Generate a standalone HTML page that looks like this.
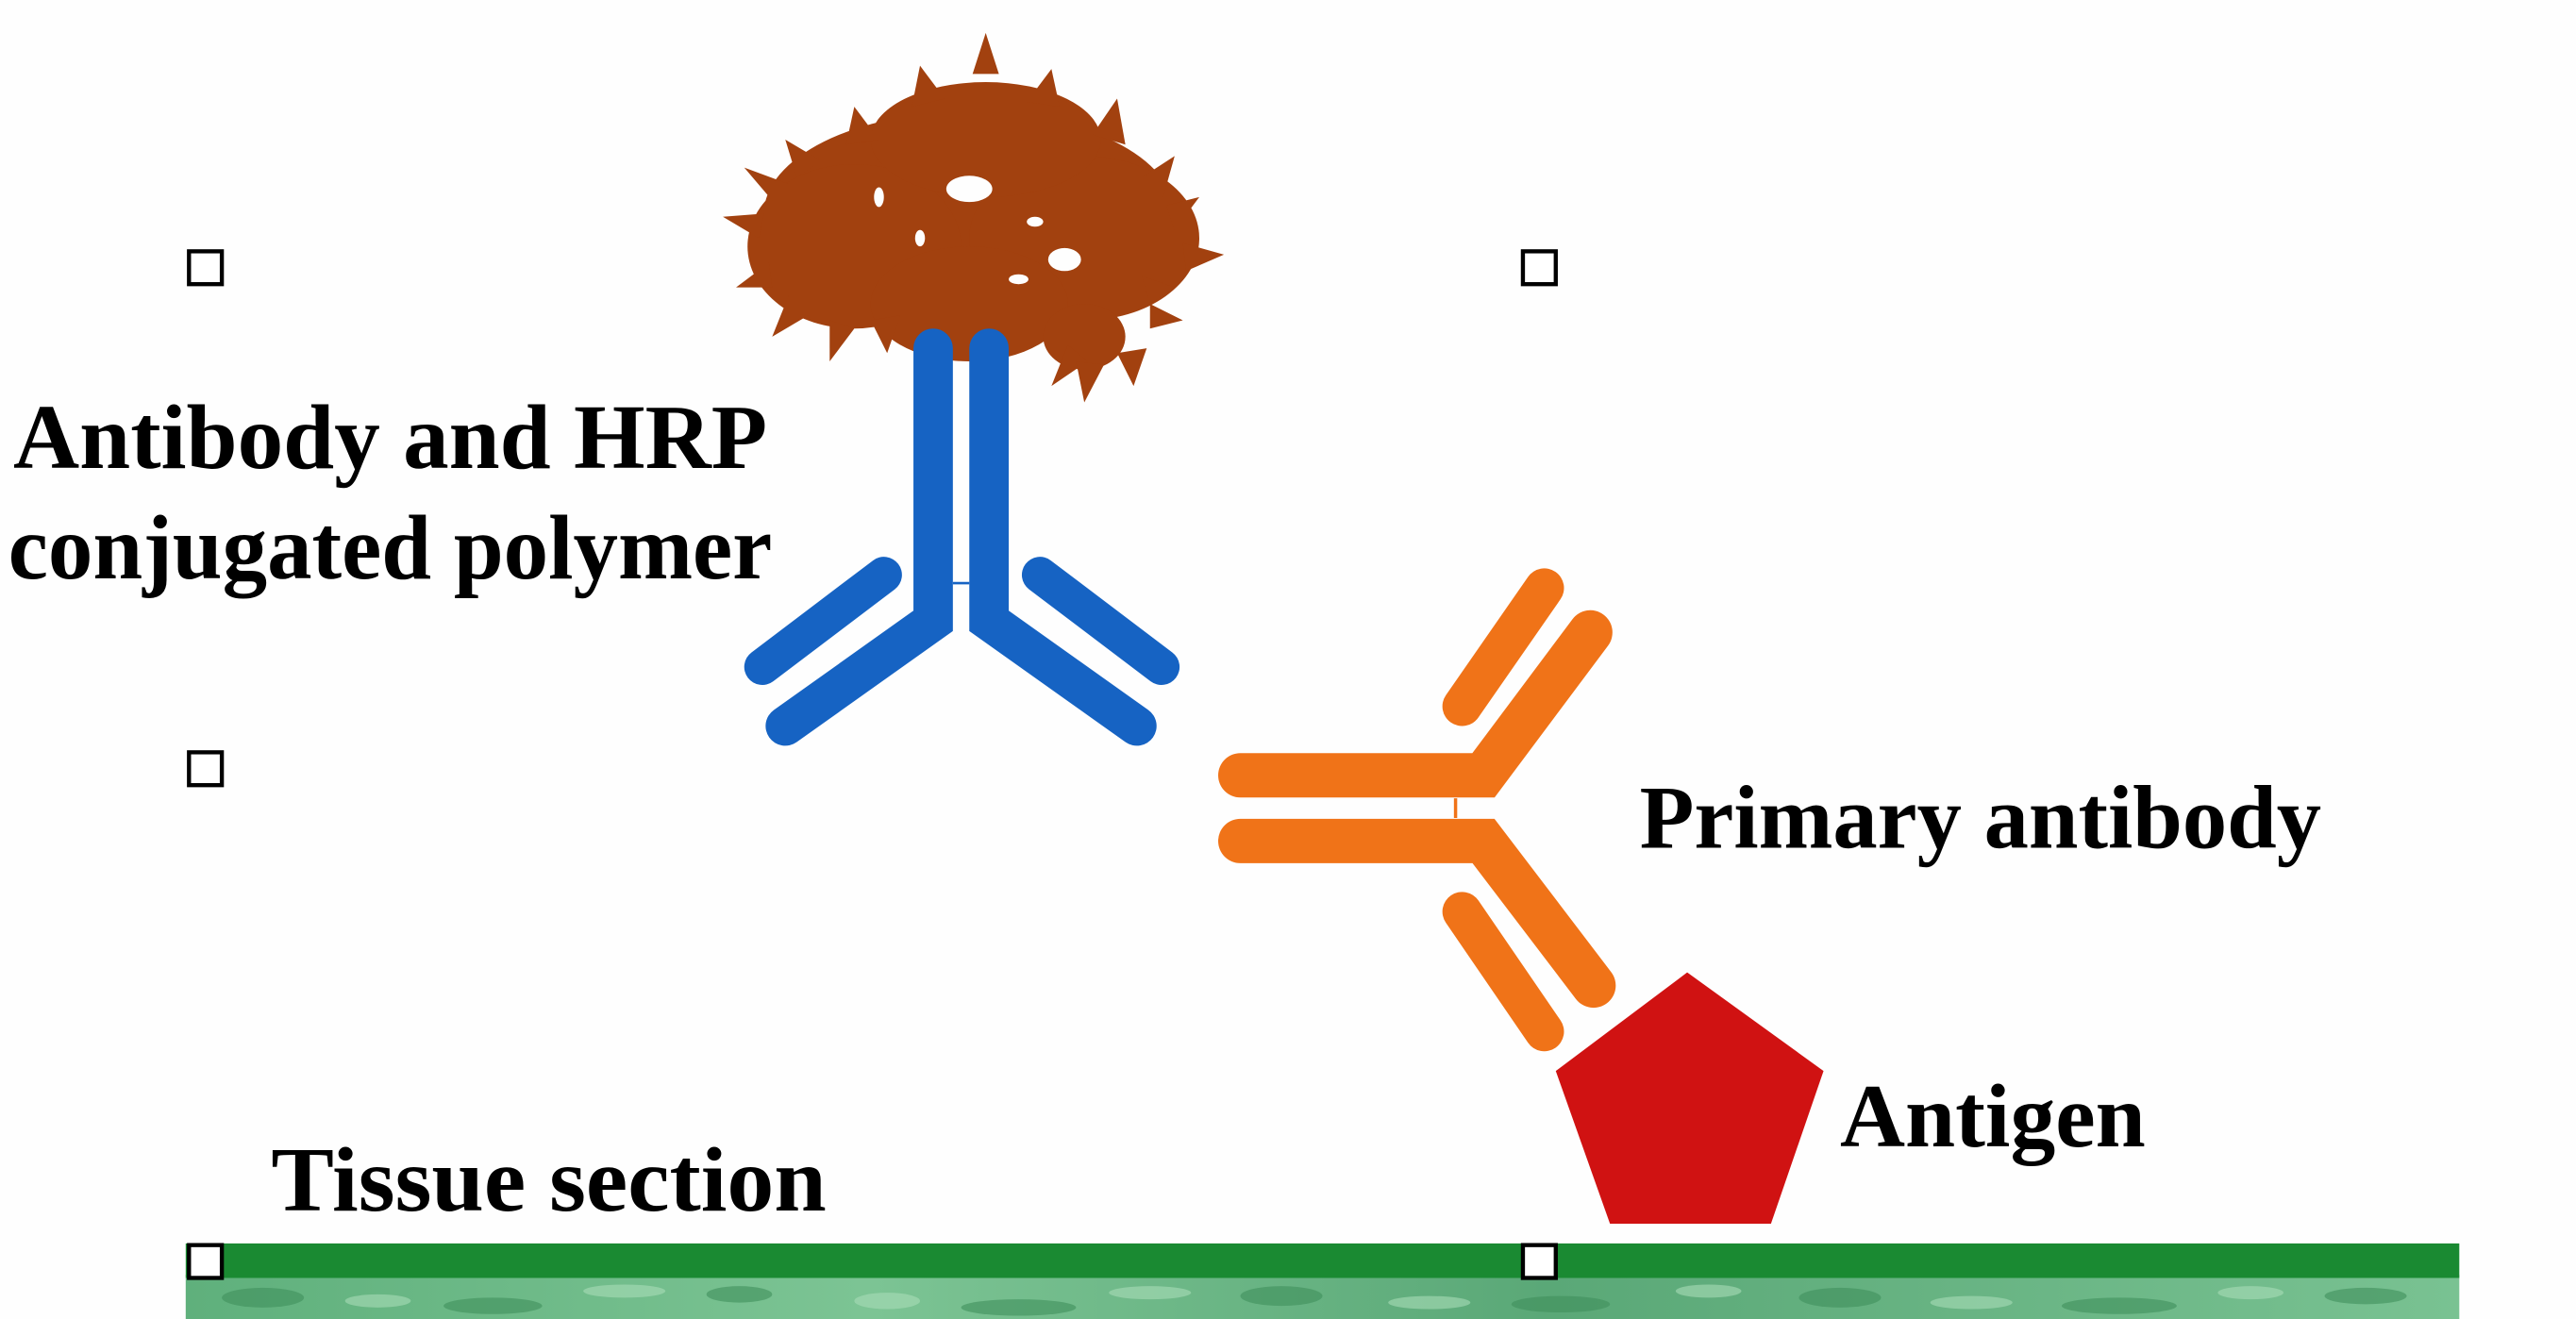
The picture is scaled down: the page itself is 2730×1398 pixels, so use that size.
<!DOCTYPE html>
<html><head><meta charset="utf-8"><style>
html,body{margin:0;padding:0;background:#fff;}
svg{display:block;}
text{font-family:"Liberation Serif",serif;font-weight:bold;fill:#000;}
</style></head><body>
<svg width="2730" height="1398" viewBox="0 0 1568 803" xmlns="http://www.w3.org/2000/svg">
<rect width="1568" height="803" fill="#fefefe"/>
<defs>
<linearGradient id="tg" x1="0" y1="0" x2="1" y2="0">
<stop offset="0" stop-color="#5fb07c"/><stop offset="0.3" stop-color="#7cc494"/><stop offset="0.6" stop-color="#5aa877"/><stop offset="1" stop-color="#79c292"/>
</linearGradient>
</defs>
<rect x="113" y="776" width="1384" height="27" fill="url(#tg)"/>
<g fill="#3f8f5c" opacity="0.6">
<ellipse cx="160" cy="790" rx="25" ry="6"/><ellipse cx="300" cy="795" rx="30" ry="5"/><ellipse cx="450" cy="788" rx="20" ry="5"/>
<ellipse cx="620" cy="796" rx="35" ry="5"/><ellipse cx="780" cy="789" rx="25" ry="6"/><ellipse cx="950" cy="794" rx="30" ry="5"/>
<ellipse cx="1120" cy="790" rx="25" ry="6"/><ellipse cx="1290" cy="795" rx="35" ry="5"/><ellipse cx="1440" cy="789" rx="25" ry="5"/>
</g>
<g fill="#a8dcb8" opacity="0.6">
<ellipse cx="230" cy="792" rx="20" ry="4"/><ellipse cx="380" cy="786" rx="25" ry="4"/><ellipse cx="540" cy="792" rx="20" ry="5"/>
<ellipse cx="700" cy="787" rx="25" ry="4"/><ellipse cx="870" cy="793" rx="25" ry="4"/><ellipse cx="1040" cy="786" rx="20" ry="4"/>
<ellipse cx="1200" cy="793" rx="25" ry="4"/><ellipse cx="1370" cy="787" rx="20" ry="4"/>
</g>
<rect x="113" y="757" width="1384" height="21" fill="#1a8a32"/>
<g fill="#fff" stroke="#000" stroke-width="2.5">
<rect x="115" y="153" width="20" height="20"/>
<rect x="927" y="153" width="20" height="20"/>
<rect x="115" y="458" width="20" height="20"/>
<rect x="115" y="758" width="20" height="20"/>
<rect x="927" y="758" width="20" height="20"/>
</g>
<!-- polymer -->
<g fill="#a2410f">
<ellipse cx="590" cy="130" rx="125" ry="62"/>
<ellipse cx="520" cy="150" rx="65" ry="50"/>
<ellipse cx="660" cy="145" rx="70" ry="50"/>
<ellipse cx="600" cy="85" rx="70" ry="35"/>
<ellipse cx="590" cy="185" rx="60" ry="35"/>
<ellipse cx="660" cy="205" rx="25" ry="20"/>
<polygon points="600,20 592,45 608,45"/>
<polygon points="560,40 555,65 575,60"/>
<polygon points="640,42 625,62 645,65"/>
<polygon points="520,65 515,88 535,85"/>
<polygon points="680,60 665,82 685,88"/>
<polygon points="478,85 485,108 500,98"/>
<polygon points="715,95 695,108 708,120"/>
<polygon points="453,102 470,122 480,112"/>
<polygon points="440,132 465,130 462,145"/>
<polygon points="745,155 720,148 722,165"/>
<polygon points="448,175 468,160 470,175"/>
<polygon points="730,120 710,125 715,140"/>
<polygon points="470,205 480,180 492,192"/>
<polygon points="505,220 505,195 520,200"/>
<polygon points="540,215 530,195 548,192"/>
<polygon points="640,235 650,210 662,220"/>
<polygon points="660,245 655,220 672,222"/>
<polygon points="690,235 680,215 698,212"/>
<polygon points="720,195 700,185 700,200"/>
<polygon points="715,175 695,168 700,185"/>
</g>
<g fill="#fefefe">
<ellipse cx="590" cy="115" rx="14" ry="8"/><ellipse cx="648" cy="158" rx="10" ry="7"/>
<ellipse cx="535" cy="120" rx="3" ry="6"/><ellipse cx="560" cy="145" rx="3" ry="5"/>
<ellipse cx="620" cy="170" rx="6" ry="3"/><ellipse cx="630" cy="135" rx="5" ry="3"/>
</g>
<!-- blue antibody -->
<g stroke="#1663c3" stroke-width="24" stroke-linecap="round" stroke-linejoin="miter" fill="none">
<polyline points="568,212 568,378 478,442"/>
<polyline points="602,212 602,378 692,442"/>
<line x1="538" y1="350" x2="464" y2="406" stroke-width="22"/>
<line x1="633" y1="350" x2="707" y2="406" stroke-width="22"/>
</g>
<line x1="580" y1="355" x2="590" y2="355" stroke="#1663c3" stroke-width="1.5"/>
<!-- orange antibody -->
<g stroke="#f07318" stroke-width="27" stroke-linecap="round" stroke-linejoin="miter" fill="none">
<polyline points="755,472 903,472 968,385"/>
<polyline points="755,512 903,512 970,600"/>
<line x1="890" y1="430" x2="940" y2="358" stroke-width="24"/>
<line x1="890" y1="555" x2="940" y2="628" stroke-width="24"/>
</g>
<line x1="886" y1="486" x2="886" y2="498" stroke="#f07318" stroke-width="2"/>
<polygon points="1027,592 1110,652 1078,745 980,745 947,652" fill="#d01212"/>
<!-- labels -->
<text x="8" y="285" font-size="56" textLength="459" lengthAdjust="spacingAndGlyphs">Antibody and HRP</text>
<text x="5" y="352" font-size="56" textLength="465" lengthAdjust="spacingAndGlyphs">conjugated polymer</text>
<text x="998" y="516" font-size="55" textLength="415" lengthAdjust="spacingAndGlyphs">Primary antibody</text>
<text x="1120" y="698" font-size="55" textLength="186" lengthAdjust="spacingAndGlyphs">Antigen</text>
<text x="165" y="737" font-size="56" textLength="338" lengthAdjust="spacingAndGlyphs">Tissue section</text>
</svg>
</body></html>
